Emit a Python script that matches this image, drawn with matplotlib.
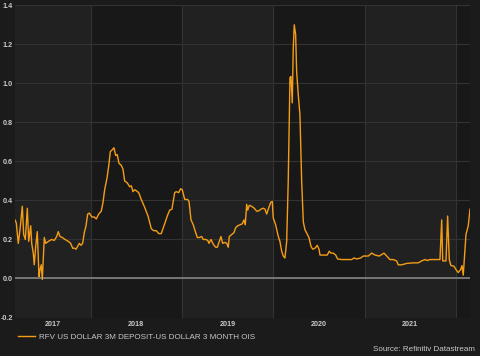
import matplotlib
matplotlib.use("Agg")
import matplotlib.pyplot as plt
from matplotlib.lines import Line2D

# ---- data (decimal years, spread in percentage points) ----
dates = [
    2017.171, 2017.185, 2017.207, 2017.226, 2017.251, 2017.266, 2017.284, 2017.306, 2017.321, 2017.343,
    2017.354, 2017.371, 2017.382, 2017.398, 2017.415, 2017.434, 2017.445, 2017.459, 2017.470, 2017.481,
    2017.492, 2017.507, 2017.536, 2017.573, 2017.601, 2017.628, 2017.645, 2017.664, 2017.689, 2017.719,
    2017.755, 2017.781, 2017.803, 2017.825, 2017.839, 2017.858, 2017.875, 2017.894, 2017.912, 2017.930,
    2017.949, 2017.967, 2017.985, 2018.014, 2018.039, 2018.061, 2018.088, 2018.116, 2018.135, 2018.153,
    2018.179, 2018.197, 2018.215, 2018.237, 2018.255, 2018.274, 2018.291, 2018.310, 2018.335, 2018.354,
    2018.372, 2018.401, 2018.427, 2018.445, 2018.463, 2018.482, 2018.499, 2018.526, 2018.554, 2018.591,
    2018.628, 2018.664, 2018.690, 2018.719, 2018.745, 2018.773, 2018.803, 2018.839, 2018.865, 2018.890,
    2018.920, 2018.938, 2018.964, 2018.986, 2019.003, 2019.030, 2019.062, 2019.077, 2019.099, 2019.124,
    2019.150, 2019.168, 2019.190, 2019.216, 2019.233, 2019.260, 2019.282, 2019.296, 2019.318, 2019.343,
    2019.369, 2019.387, 2019.409, 2019.427, 2019.446, 2019.471, 2019.490, 2019.507, 2019.518, 2019.544,
    2019.570, 2019.588, 2019.610, 2019.635, 2019.660, 2019.679, 2019.693, 2019.709, 2019.720, 2019.737,
    2019.763, 2019.792, 2019.818, 2019.836, 2019.865, 2019.890, 2019.909, 2019.928, 2019.945, 2019.972,
    2019.989, 2020.000, 2020.026, 2020.055, 2020.073, 2020.092, 2020.110, 2020.128, 2020.147, 2020.164,
    2020.183, 2020.194, 2020.208, 2020.219, 2020.230, 2020.245, 2020.256, 2020.274, 2020.292, 2020.311,
    2020.329, 2020.347, 2020.375, 2020.391, 2020.413, 2020.432, 2020.457, 2020.482, 2020.501, 2020.512,
    2020.548, 2020.592, 2020.613, 2020.632, 2020.657, 2020.684, 2020.705, 2020.749, 2020.804, 2020.859,
    2020.884, 2020.914, 2020.957, 2020.986, 2021.041, 2021.078, 2021.114, 2021.161, 2021.213, 2021.242,
    2021.278, 2021.314, 2021.352, 2021.369, 2021.406, 2021.461, 2021.533, 2021.588, 2021.625, 2021.662,
    2021.687, 2021.716, 2021.771, 2021.826, 2021.845, 2021.856, 2021.892, 2021.910, 2021.928, 2021.946,
    2021.979, 2022.001, 2022.026, 2022.053, 2022.067, 2022.081, 2022.111, 2022.136, 2022.155,
]
spread = [
    0.30, 0.285, 0.18, 0.25, 0.37, 0.225, 0.20, 0.36, 0.19, 0.27,
    0.18, 0.13, 0.07, 0.165, 0.24, 0.01, 0.045, 0.07, -0.005, 0.10,
    0.21, 0.18, 0.19, 0.20, 0.195, 0.215, 0.24, 0.215, 0.21, 0.20,
    0.19, 0.18, 0.155, 0.155, 0.15, 0.165, 0.18, 0.17, 0.18, 0.235,
    0.27, 0.33, 0.335, 0.315, 0.315, 0.305, 0.33, 0.345, 0.39, 0.455,
    0.515, 0.575, 0.65, 0.66, 0.67, 0.63, 0.635, 0.59, 0.58, 0.56,
    0.50, 0.49, 0.47, 0.475, 0.445, 0.455, 0.45, 0.44, 0.405, 0.365,
    0.32, 0.255, 0.245, 0.245, 0.23, 0.23, 0.27, 0.32, 0.35, 0.355,
    0.44, 0.445, 0.44, 0.46, 0.455, 0.405, 0.405, 0.395, 0.30, 0.275,
    0.235, 0.21, 0.21, 0.215, 0.20, 0.20, 0.195, 0.18, 0.20, 0.175,
    0.16, 0.16, 0.19, 0.215, 0.18, 0.185, 0.18, 0.16, 0.215, 0.225,
    0.235, 0.26, 0.27, 0.275, 0.28, 0.30, 0.275, 0.38, 0.35, 0.375,
    0.37, 0.36, 0.345, 0.345, 0.355, 0.36, 0.355, 0.33, 0.355, 0.39,
    0.395, 0.31, 0.275, 0.215, 0.19, 0.14, 0.115, 0.105, 0.19, 0.50,
    1.03, 1.035, 0.90, 1.18, 1.30, 1.25, 1.06, 0.94, 0.84, 0.50,
    0.29, 0.25, 0.225, 0.21, 0.165, 0.15, 0.155, 0.17, 0.15, 0.12,
    0.12, 0.12, 0.14, 0.13, 0.13, 0.12, 0.10, 0.097, 0.097, 0.097,
    0.105, 0.10, 0.105, 0.115, 0.115, 0.13, 0.12, 0.115, 0.13, 0.115,
    0.097, 0.097, 0.09, 0.07, 0.07, 0.077, 0.08, 0.08, 0.09, 0.097,
    0.092, 0.097, 0.097, 0.097, 0.30, 0.09, 0.09, 0.32, 0.097, 0.066,
    0.063, 0.046, 0.03, 0.046, 0.066, 0.017, 0.225, 0.27, 0.355,
]
years = [2017, 2018, 2019, 2020, 2021, 2022]
year_labels = ["2017", "2018", "2019", "2020", "2021"]
y_ticks = [-0.2, 0.0, 0.2, 0.4, 0.6, 0.8, 1.0, 1.2, 1.4]
series_name = "RFV US DOLLAR 3M DEPOSIT-US DOLLAR 3 MONTH OIS"
source_text = "Source: Refinitiv Datastream"

# ---- style ----
fig_bg = "#1b1b1b"
band_light = "#212121"
band_dark = "#181818"
grid_col = "#333333"
text_col = "#c8c8c8"
line_col = "#f59d16"

plt.rcParams["font.family"] = ["Liberation Sans", "DejaVu Sans"]

fig = plt.figure(figsize=(4.8, 3.56), dpi=100, facecolor=fig_bg)
ax = fig.add_axes([15 / 480, 1 - 317.5 / 356, 455 / 480, (317.5 - 5.3) / 356])
ax.set_facecolor(band_dark)

x0, x1 = dates[0], dates[-1]
ax.set_xlim(x0, x1)
ax.set_ylim(-0.2, 1.4)

# alternating yearly bands
for i, yr in enumerate(years):
    lo = max(yr, x0)
    hi = min(yr + 1, x1)
    if hi > lo:
        ax.axvspan(lo, hi, color=band_light if i % 2 == 0 else band_dark, lw=0, zorder=0)
    if x0 < yr < x1:
        ax.axvline(yr, color=grid_col, lw=0.8, zorder=1)

for t in y_ticks:
    ax.axhline(t, color=grid_col, lw=0.8, zorder=1)
ax.axhline(0.0, color="#8c8c8c", lw=1.1, zorder=2)

ax.plot(dates, spread, color=line_col, lw=1.0, zorder=3, solid_joinstyle="round")

# ticks
tick_pos = []
for yr in years[:len(year_labels)]:
    lo = max(yr, x0)
    hi = min(yr + 1, x1)
    tick_pos.append((lo + hi) / 2)
ax.set_xticks(tick_pos)
ax.set_xticklabels(year_labels)
ax.set_yticks(y_ticks)
ax.set_yticklabels([f"{v:.1f}" for v in y_ticks])
ax.tick_params(axis="both", length=0, colors=text_col, labelsize=5.2)
ax.tick_params(axis="x", pad=2.5)
ax.tick_params(axis="y", pad=1.5)
for lab in ax.get_xticklabels() + ax.get_yticklabels():
    lab.set_fontweight("bold")
for s in ax.spines.values():
    s.set_visible(False)

handle = Line2D([], [], color=line_col, lw=1.0)
fig.legend([handle], [series_name], loc="center left",
           bbox_to_anchor=(18 / 480, 1 - 337 / 356), frameon=False,
           fontsize=5.8, labelcolor=text_col, borderpad=0, borderaxespad=0,
           handlelength=2.1, handletextpad=0.55)

fig.text(475 / 480, 1 - 349.5 / 356, source_text, ha="right", va="center",
         color=text_col, fontsize=5.8)

fig.savefig("out.png", dpi=100, facecolor=fig_bg)
